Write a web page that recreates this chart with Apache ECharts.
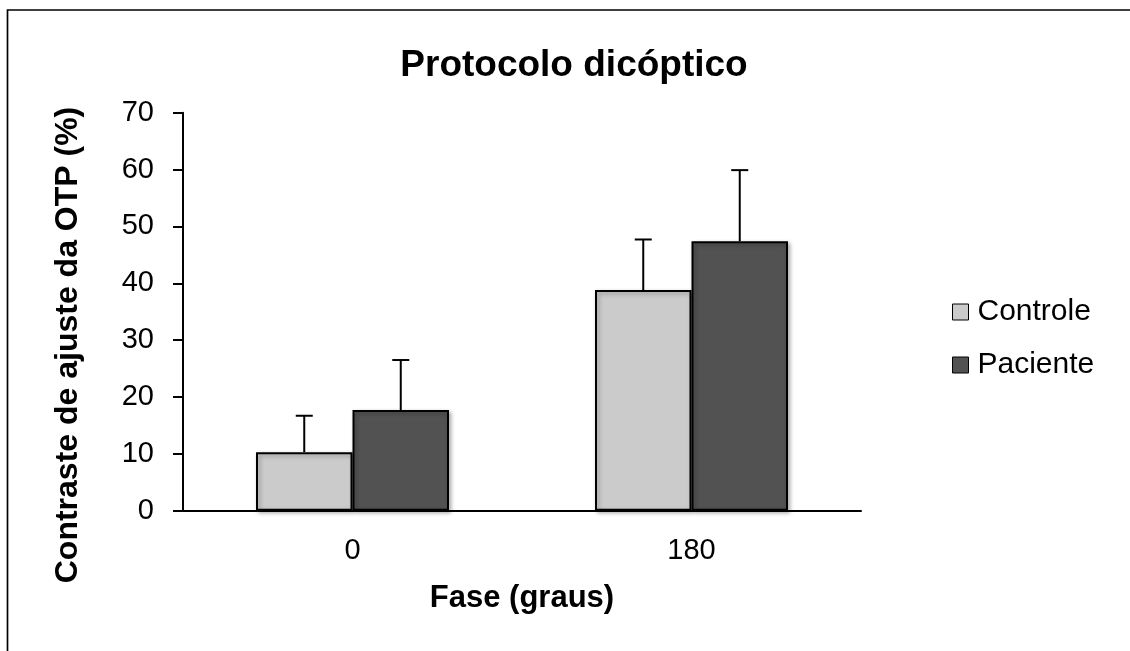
<!DOCTYPE html>
<html>
<head>
<meta charset="utf-8">
<script src="https://cdn.jsdelivr.net/npm/echarts@6/dist/echarts.min.js"></script>
<style>
  html, body { margin: 0; padding: 0; background: #fff; }
  #main { width: 1130px; height: 651px; }
</style>
</head>
<body>
<div id="main"></div>
<script>
// dados
var fases = ['0', '180'];
var controle = [10.3, 38.8];
var controleErro = [6.4, 8.9];
var paciente = [17.7, 47.4];
var pacienteErro = [8.8, 12.5];
var yTicks = [0, 10, 20, 30, 40, 50, 60, 70];

var FONT = '"Liberation Sans", Arial, sans-serif';
var BAR_W = 96.5;

// barras de erro (só para cima)
function errorSeries(name, means, errs, side) {
  return {
    name: name,
    type: 'custom',
    z: 1,
    data: means.map(function (m, i) { return [i, m, m + errs[i]]; }),
    renderItem: function (params, api) {
      var base = api.coord([api.value(0), api.value(1)]);
      var top = api.coord([api.value(0), api.value(2)]);
      var x = base[0] + side * BAR_W / 2;
      var st = { stroke: '#000', lineWidth: 2 };
      return {
        type: 'group',
        children: [
          { type: 'line', shape: { x1: x, y1: base[1], x2: x, y2: top[1] }, style: st },
          { type: 'line', shape: { x1: x - 8.5, y1: top[1], x2: x + 8.5, y2: top[1] }, style: st }
        ]
      };
    }
  };
}

var myChart = echarts.init(document.getElementById('main'));

var barStyle = function (color) {
  return {
    color: color,
    borderColor: '#000',
    borderWidth: 2,
    shadowColor: 'rgba(0,0,0,0.3)',
    shadowBlur: 4,
    shadowOffsetX: 2,
    shadowOffsetY: 2
  };
};

var option = {
  animation: false,
  backgroundColor: '#fff',
  title: {
    text: 'Protocolo dicóptico',
    left: 569,
    textAlign: 'center',
    top: 43,
    textStyle: { fontFamily: FONT, fontSize: 37, fontWeight: 'bold', color: '#000', lineHeight: 36 }
  },
  legend: {
    orient: 'vertical',
    left: 952,
    top: 295,
    padding: 0,
    data: ['Controle', 'Paciente'],
    icon: 'rect',
    itemWidth: 16,
    itemHeight: 16,
    itemGap: 19,
    itemStyle: { borderWidth: 1, borderColor: '#000', shadowBlur: 0, shadowOffsetX: 0, shadowOffsetY: 0 },
    textStyle: { fontFamily: FONT, fontSize: 30, color: '#000', lineHeight: 34, padding: [0, 0, 0, 4] }
  },
  grid: { left: 183, right: 269, top: 112.7, bottom: 140.3 },
  xAxis: {
    type: 'category',
    data: fases,
    name: 'Fase (graus)',
    nameLocation: 'middle',
    nameGap: 72,
    nameTextStyle: { fontFamily: FONT, fontSize: 31, fontWeight: 'bold', color: '#000' },
    axisLine: { lineStyle: { color: '#000', width: 2 } },
    axisTick: { length: 8, lineStyle: { color: '#000', width: 2 } },
    axisLabel: { fontFamily: FONT, fontSize: 29, color: '#000', margin: 26 }
  },
  yAxis: {
    type: 'value',
    min: yTicks[0],
    max: yTicks[yTicks.length - 1],
    interval: 10,
    axisLine: { show: true, lineStyle: { color: '#000', width: 2 } },
    axisTick: { show: true, length: 10, lineStyle: { color: '#000', width: 2 } },
    splitLine: { show: false },
    axisLabel: { fontFamily: FONT, fontSize: 29, color: '#000', margin: 29 }
  },
  graphic: [
    {
      type: 'rect',
      shape: { x: 7.5, y: 10, width: 1300, height: 1000 },
      style: { fill: 'none', stroke: '#000', lineWidth: 1.7 },
      silent: true
    },
    {
      type: 'text',
      x: 68,
      y: 345,
      rotation: Math.PI / 2,
      style: {
        text: 'Contraste de ajuste da OTP (%)',
        font: 'bold 32px ' + FONT,
        fill: '#000',
        align: 'center',
        verticalAlign: 'middle'
      }
    }
  ],
  series: [
    {
      name: 'Controle',
      type: 'bar',
      data: controle,
      barWidth: BAR_W,
      barGap: '0%',
      z: 2,
      itemStyle: barStyle('#cbcbcb')
    },
    {
      name: 'Paciente',
      type: 'bar',
      data: paciente,
      barWidth: BAR_W,
      barGap: '0%',
      z: 2,
      itemStyle: barStyle('#525252')
    },
    errorSeries('erroControle', controle, controleErro, -1),
    errorSeries('erroPaciente', paciente, pacienteErro, 1)
  ]
};

myChart.setOption(option);
</script>
</body>
</html>
